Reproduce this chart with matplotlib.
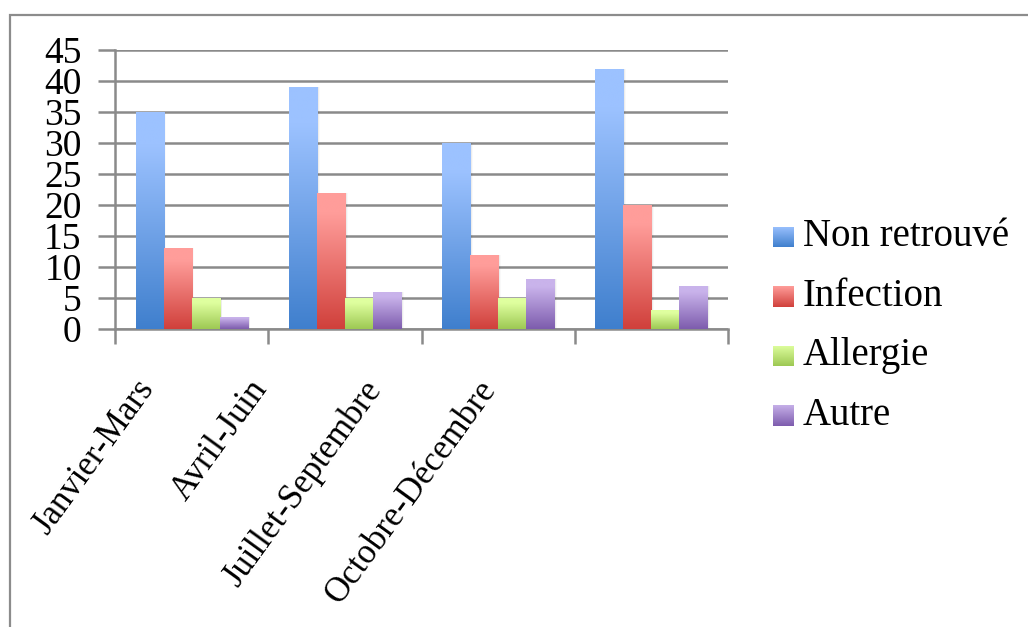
import numpy as np
import matplotlib
matplotlib.use("Agg")
import matplotlib.pyplot as plt
import matplotlib.patches as patches
from matplotlib.colors import LinearSegmentedColormap

categories = ["Janvier-Mars", "Avril-Juin", "Juillet-Septembre", "Octobre-Décembre"]
series_names = ["Non retrouvé", "Infection", "Allergie", "Autre"]
non_retrouve = [35, 39, 30, 42]
infection = [13, 22, 12, 20]
allergie = [5, 5, 5, 3]
autre = [2, 6, 8, 7]
y_ticks = [0, 5, 10, 15, 20, 25, 30, 35, 40, 45]

series = [non_retrouve, infection, allergie, autre]
# (bottom colour, top colour) for each series gradient
grads = [("#3f7fcd", "#9cc2ff"),
         ("#d0403b", "#ff9d9a"),
         ("#9dc853", "#dfff9f"),
         ("#7d5cad", "#c9b3eb")]

plt.rcParams['font.family'] = ['Liberation Serif', 'DejaVu Serif']

fig = plt.figure(figsize=(10.28, 6.27), dpi=100)
ax = fig.add_axes([115 / 1028, 1 - 329 / 627, (728 - 115) / 1028, (329 - 50) / 627])

# outer frame of the chart (only top and left are visible)
frame = patches.Rectangle((10 / 1028, -0.2), 1.2, 1.2 - 15 / 627, transform=fig.transFigure,
                          fill=False, edgecolor="#8c8c8c", linewidth=1.6, clip_on=False)
fig.patches.append(frame)

bw = 0.183
x = np.arange(len(categories))
grad = np.linspace(0, 1, 512).reshape(-1, 1)
for i, (vals, (c0, c1)) in enumerate(zip(series, grads)):
    cmap = LinearSegmentedColormap.from_list("g%d" % i, [(0, c0), (0.85, c1), (1, c1)], N=512)
    xs = x - 1.5 * bw + i * bw
    for xc, v in zip(xs, vals):
        # soft shadow to the right
        for k, a in enumerate([0.09, 0.05, 0.025]):
            sh = patches.Rectangle((xc - bw / 2 + 0.006 * (k + 1), 0), bw, v,
                                   facecolor="black", edgecolor="none", alpha=a, zorder=2)
            ax.add_patch(sh)
        rect = patches.Rectangle((xc - bw / 2, 0), bw, v, facecolor="none", edgecolor="none", zorder=3)
        ax.add_patch(rect)
        im = ax.imshow(grad, cmap=cmap, origin="lower", aspect="auto",
                       extent=(xc - bw / 2, xc + bw / 2, 0, v), zorder=3,
                       interpolation="bilinear")
        im.set_clip_path(rect)

ax.set_xlim(-0.5, len(categories) - 0.5)
ax.set_ylim(0, 45)
ax.set_yticks(y_ticks)
ax.set_yticklabels([str(t) for t in y_ticks], fontsize=27)
ax.yaxis.grid(True, color="#8a8a8a", linewidth=1.8, zorder=1)
ax.set_axisbelow(True)
ax.tick_params(axis="y", length=12, width=1.8, color="#8a8a8a", pad=12)

ax.set_xticks(np.arange(-0.5, len(categories) + 0.5, 1))
ax.set_xticklabels([])
ax.tick_params(axis="x", length=11, width=1.8, color="#8a8a8a")

for s in ["top", "right"]:
    ax.spines[s].set_visible(False)
for s in ["left", "bottom"]:
    ax.spines[s].set_color("#8a8a8a")
    ax.spines[s].set_linewidth(1.8)

# category labels (rotated, placed like the original)
for i, lab in enumerate(categories):
    fig.text((134 + 114 * i) / 1028, 1 - 374 / 627, lab, rotation=54, rotation_mode="anchor",
             ha="right", va="top", fontsize=25)

# legend
for i, name in enumerate(series_names):
    yc = 1 - (237 + 59.5 * i) / 627
    c0, c1 = grads[i]
    cmap = LinearSegmentedColormap.from_list("l%d" % i, [c0, c1], N=256)
    lax = fig.add_axes([773 / 1028, yc - 10.5 / 627, 21 / 1028, 21 / 627])
    lax.imshow(grad, cmap=cmap, origin="lower", aspect="auto")
    lax.set_axis_off()
    fig.text(803 / 1028, yc, name, ha="left", va="center", fontsize=28)

fig.savefig("out.png", dpi=100)
